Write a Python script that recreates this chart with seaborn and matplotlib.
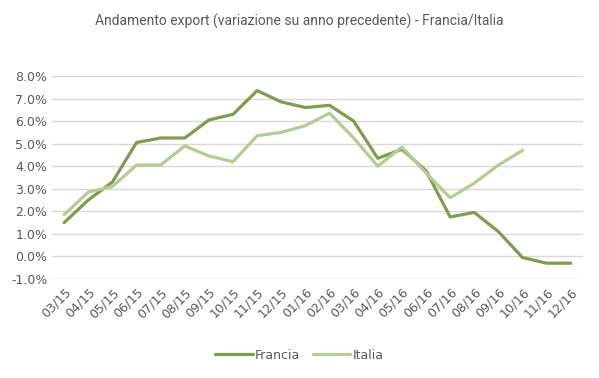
import numpy as np
import pandas as pd
import matplotlib
matplotlib.use('Agg')
import matplotlib.pyplot as plt
import seaborn as sns
from matplotlib.ticker import FuncFormatter

months = ["03/15", "04/15", "05/15", "06/15", "07/15", "08/15", "09/15", "10/15",
          "11/15", "12/15", "01/16", "02/16", "03/16", "04/16", "05/16", "06/16",
          "07/16", "08/16", "09/16", "10/16", "11/16", "12/16"]
francia = [1.5, 2.5, 3.3, 5.05, 5.25, 5.25, 6.05, 6.3, 7.35, 6.85, 6.6, 6.7,
           6.0, 4.35, 4.75, 3.8, 1.75, 1.95, 1.1, -0.05, -0.3, -0.3]
italia = [1.85, 2.85, 3.1, 4.05, 4.05, 4.9, 4.45, 4.2, 5.35, 5.5, 5.8, 6.35,
          5.25, 4.0, 4.85, 3.7, 2.6, 3.25, 4.05, 4.7, np.nan, np.nan]

colors = {"Francia": "#7F9C4F", "Italia": "#B5CC95"}

df = pd.DataFrame({
    "mese": months * 2,
    "pos": list(range(len(months))) * 2,
    "valore": francia + italia,
    "paese": ["Francia"] * len(months) + ["Italia"] * len(months),
})
df = df.dropna()

sns.set_style("white")
plt.rcParams['font.family'] = ['DejaVu Sans']

fig = plt.figure(figsize=(5.99, 3.78), dpi=100)
ax = fig.add_axes([0.087, 0.262, 0.886, 0.537])

sns.lineplot(data=df, x="pos", y="valore", hue="paese", palette=colors,
             linewidth=2.3, ax=ax, sort=False)

ax.set_xlim(-0.5, len(months) - 0.5)
ax.set_ylim(-1, 8)
ax.set_yticks(np.arange(-1, 9, 1))
ax.yaxis.set_major_formatter(FuncFormatter(lambda v, p: f"{v:.1f}%"))
ax.set_xticks(range(len(months)))
ax.set_xticklabels(months, rotation=45, ha="right", rotation_mode="anchor")
ax.tick_params(axis="both", length=0, labelsize=9, colors="#595959")
ax.tick_params(axis="x", pad=5)
ax.grid(True, axis="y", color="#D9D9D9", linewidth=1)
ax.set_axisbelow(True)
for s in ax.spines.values():
    s.set_visible(False)
ax.set_xlabel("")
ax.set_ylabel("")

fig.suptitle("Andamento export (variazione su anno precedente) - Francia/Italia",
             x=0.5, y=0.965, fontsize=10, color="#595959",
             family=["Roboto", "DejaVu Sans"])

handles, labels = ax.get_legend_handles_labels()
ax.legend(handles, labels, loc="center", bbox_to_anchor=(0.5, 0.06),
          bbox_transform=fig.transFigure, ncol=2, frameon=False,
          fontsize=9, labelcolor="#595959", handlelength=3.0,
          handletextpad=0.2, columnspacing=1.0)

fig.savefig("out.png", dpi=100)
plt.close('all')
